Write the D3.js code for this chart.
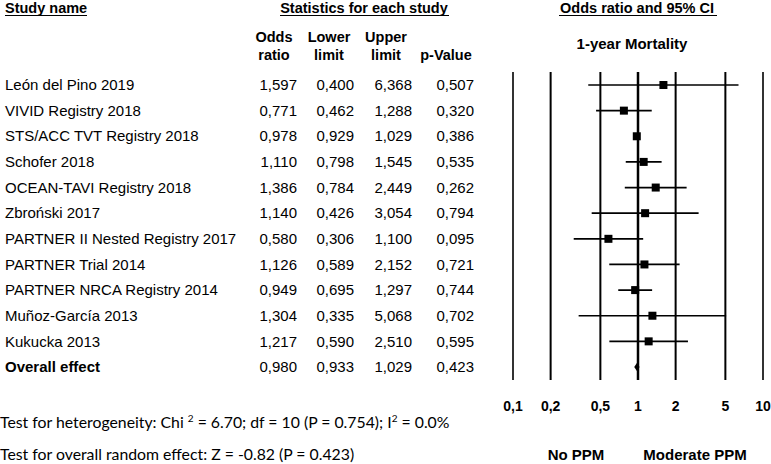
<!DOCTYPE html>
<html><head><meta charset="utf-8">
<script src="https://cdn.jsdelivr.net/npm/d3@7"></script>
<style>body{margin:0;background:#fff}svg{display:block}</style>
</head><body>
<svg id="c" width="771" height="464"></svg>
<script>
const studies = ["León del Pino 2019","VIVID Registry 2018","STS/ACC TVT Registry 2018","Schofer 2018","OCEAN-TAVI Registry 2018","Zbroński 2017","PARTNER II Nested Registry 2017","PARTNER Trial 2014","PARTNER NRCA Registry 2014","Muñoz-García 2013","Kukucka 2013"];
const oddsRatio  = [1.597,0.771,0.978,1.110,1.386,1.140,0.580,1.126,0.949,1.304,1.217];
const lowerLimit = [0.400,0.462,0.929,0.798,0.784,0.426,0.306,0.589,0.695,0.335,0.590];
const upperLimit = [6.368,1.288,1.029,1.545,2.449,3.054,1.100,2.152,1.297,5.068,2.510];
const pValue     = [0.507,0.320,0.386,0.535,0.262,0.794,0.095,0.721,0.744,0.702,0.595];
const overall = {name:"Overall effect", or:0.980, lo:0.933, hi:1.029, p:0.423};
const tickValues = [0.1,0.2,0.5,1,2,5,10];
const tickLabels = ["0,1","0,2","0,5","1","2","5","10"];

const svg = d3.select("#c");
const F = "'Liberation Sans', Arial, sans-serif";
const fmt = v => d3.format(".3f")(v).replace(".", ",");

const x = d3.scaleLog().domain([0.1,10]).range([513,763]);
const rows = studies.concat([overall.name]);
const y = d3.scalePoint().domain(rows).range([85,367]);

function header(txt, xc, anchor, x1, x2){
  svg.append("text").attr("x",xc).attr("y",12.5).attr("text-anchor",anchor)
    .attr("font-family",F).attr("font-size",14.5).attr("font-weight","bold").text(txt);
  svg.append("line").attr("x1",x1).attr("x2",x2).attr("y1",15.5).attr("y2",15.5)
    .attr("stroke","#000").attr("stroke-width",1);
}
header("Study name",5,"start",5,87);
header("Statistics for each study",364,"middle",280,449);
header("Odds ratio and 95% CI",637,"middle",559,717);

const colX = [297,354,412,474];
const colHead = [["Odds","ratio"],["Lower","limit"],["Upper","limit"],["","p-Value"]];
const headX = [274,329,386,446];
colHead.forEach((h,i)=>{
  h.forEach((t,j)=>{
    svg.append("text").attr("x",headX[i]).attr("y",j?59.5:41.5).attr("text-anchor","middle")
      .attr("font-family",F).attr("font-size",14.5).attr("font-weight","bold").text(t);
  });
});
svg.append("text").attr("x",632).attr("y",48.5).attr("text-anchor","middle")
  .attr("font-family",F).attr("font-size",15).attr("font-weight","bold").text("1-year Mortality");

const tab = studies.map((s,i)=>({name:s, vals:[oddsRatio[i],lowerLimit[i],upperLimit[i],pValue[i]], bold:false}))
  .concat([{name:overall.name, vals:[overall.or,overall.lo,overall.hi,overall.p], bold:true}]);
const g = svg.append("g").attr("font-family",F).attr("font-size",15);
tab.forEach(r=>{
  const yy = y(r.name)+5.2;
  g.append("text").attr("x",5).attr("y",yy).attr("font-weight",r.bold?"bold":"normal").text(r.name);
  r.vals.forEach((v,k)=>{
    g.append("text").attr("x",colX[k]).attr("y",yy).attr("text-anchor","end").text(fmt(v));
  });
});

tickValues.forEach(t=>{
  svg.append("line").attr("x1",x(t)).attr("x2",x(t)).attr("y1",72).attr("y2",380)
    .attr("stroke", (t===0.1||t===10)?"#333":"#000").attr("stroke-width", t===1?2.5:2);
});
tickValues.forEach((t,i)=>{
  svg.append("text").attr("x",x(t)).attr("y",411).attr("text-anchor","middle")
    .attr("font-family",F).attr("font-size",14).attr("font-weight","bold").text(tickLabels[i]);
});

const pg = svg.append("g");
studies.forEach((s,i)=>{
  const yy = y(s);
  pg.append("line").attr("x1",x(lowerLimit[i])).attr("x2",x(upperLimit[i])).attr("y1",yy).attr("y2",yy)
    .attr("stroke","#000").attr("stroke-width",1.7);
  pg.append("rect").attr("x",x(oddsRatio[i])-4).attr("y",yy-4).attr("width",8).attr("height",8).attr("fill","#000");
});
const oy = y(overall.name);
pg.append("path").attr("d",`M${x(overall.lo)},${oy} L${x(overall.or)},${oy-4} L${x(overall.hi)},${oy} L${x(overall.or)},${oy+4} Z`).attr("fill","#000");

svg.append("text").attr("x",576).attr("y",460).attr("text-anchor","middle")
  .attr("font-family",F).attr("font-size",15).attr("font-weight","bold").text("No PPM");
svg.append("text").attr("x",695).attr("y",460).attr("text-anchor","middle")
  .attr("font-family",F).attr("font-size",15).attr("font-weight","bold").text("Moderate PPM");

const FN = "Lato, 'Open Sans', sans-serif";
const t1 = svg.append("text").attr("x",0).attr("y",428).attr("font-family",FN).attr("font-size",15.8);
t1.append("tspan").text("Test for heterogeneity: Chi ");
t1.append("tspan").attr("font-size",10).attr("dy",-6).text("2");
t1.append("tspan").attr("dy",6).text(" = 6.70; df = 10 (P = 0.754); I");
t1.append("tspan").attr("font-size",10).attr("dy",-6).text("2");
t1.append("tspan").attr("dy",6).text(" = 0.0%");
svg.append("text").attr("x",0).attr("y",460).attr("font-family",FN).attr("font-size",15.8)
  .text("Test for overall random effect: Z = -0.82 (P = 0.423)");
</script>
</body></html>
